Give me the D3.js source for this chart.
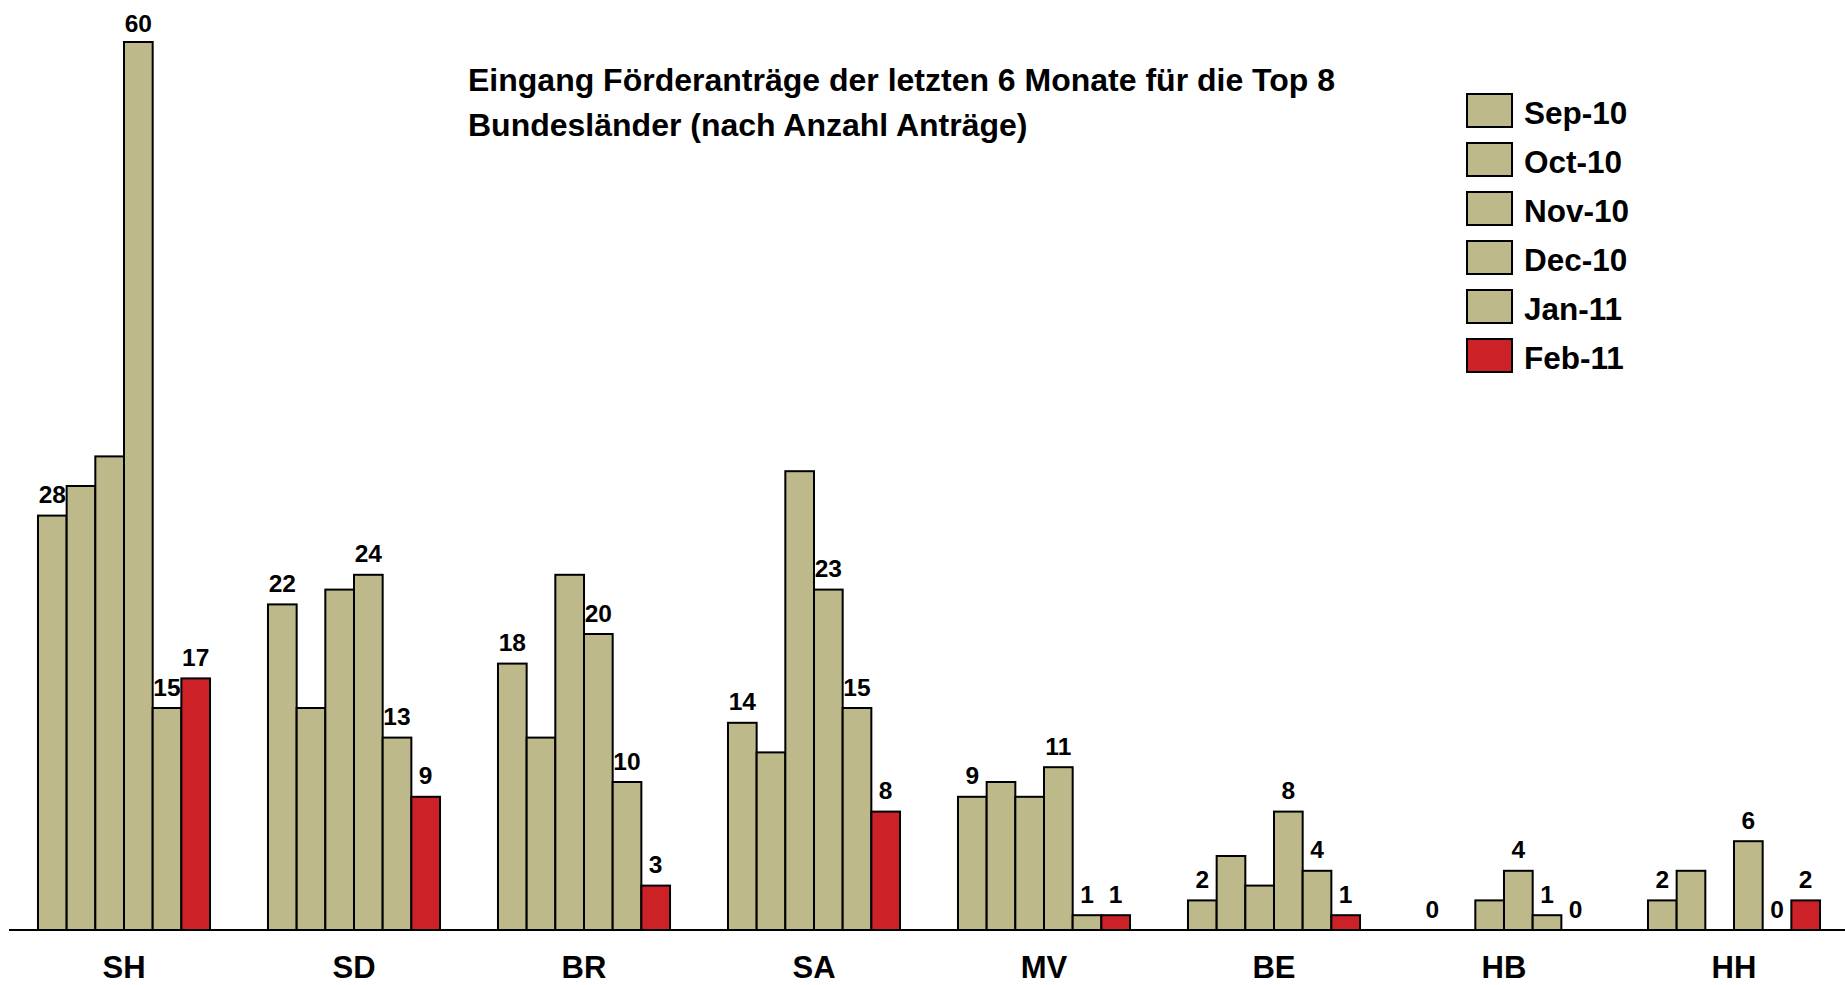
<!DOCTYPE html>
<html>
<head>
<meta charset="utf-8">
<script src="https://cdn.jsdelivr.net/npm/d3@7"></script>
<style>
    body { margin: 0; background: #fff; }
    text { font-family: "Liberation Sans", Arial, sans-serif; font-weight: bold; fill: #000; }
</style>
</head>
<body>
<div class="barchart"></div>
<script>
// DATA ------------------------------
const states = ["SH", "SD", "BR", "SA", "MV", "BE", "HB", "HH"];
const months = ["Sep-10", "Oct-10", "Nov-10", "Dec-10", "Jan-11", "Feb-11"];

const sep10 = [28, 22, 18, 14, 9, 2, 0, 2];
const oct10 = [30, 15, 13, 12, 10, 5, 0, 4];
const nov10 = [32, 23, 24, 31, 9, 3, 2, 0];
const dec10 = [60, 24, 20, 23, 11, 8, 4, 6];
const jan11 = [15, 13, 10, 15, 1, 4, 1, 0];
const feb11 = [17, 9, 3, 8, 1, 1, 0, 2];

// which months get a value label
const labelled = ["Sep-10", "Dec-10", "Jan-11", "Feb-11"];

const titleLines = [
    "Eingang Förderanträge der letzten 6 Monate für die Top 8",
    "Bundesländer (nach Anzahl Anträge)"
];

// CHART ------------------------------
const series = [sep10, oct10, nov10, dec10, jan11, feb11];
const data = [];
states.forEach((s, i) => {
    months.forEach((m, j) => {
        data.push({state: s, month: m, value: series[j][i]});
    });
});

const width = 1845, height = 985;
const colors = d3.scaleOrdinal()
    .domain(months)
    .range(["#bdb98a", "#bdb98a", "#bdb98a", "#bdb98a", "#bdb98a", "#cd2128"]);

const svg = d3.select(".barchart")
    .append("svg")
    .attr("width", width)
    .attr("height", height);

// scales
const xScale = d3.scaleBand()
    .domain(states)
    .range([9, 1849])
    .paddingInner(0.252)
    .paddingOuter(0.126);

const xSub = d3.scaleBand()
    .domain(months)
    .range([0, xScale.bandwidth()]);

const yScale = d3.scaleLinear()
    .domain([0, 60])
    .range([930, 42]);

// bars
const groups = svg.selectAll(".group")
    .data(states)
    .enter()
    .append("g")
    .attr("class", "group")
    .attr("transform", d => `translate(${xScale(d)},0)`);

groups.selectAll("rect")
    .data(s => data.filter(d => d.state === s && d.value > 0))
    .enter()
    .append("rect")
    .attr("x", d => xSub(d.month))
    .attr("y", d => yScale(d.value))
    .attr("width", xSub.bandwidth())
    .attr("height", d => yScale(0) - yScale(d.value))
    .attr("fill", d => colors(d.month))
    .attr("stroke", "#000")
    .attr("stroke-width", 2);

// labels sit ~12px over the bar, but the top one is pushed down to stay inside
groups.selectAll(".val")
    .data(s => data.filter(d => d.state === s && labelled.includes(d.month)))
    .enter()
    .append("text")
    .attr("class", "val")
    .attr("x", d => xSub(d.month) + xSub.bandwidth() / 2)
    .attr("y", d => Math.max(yScale(d.value) - 12.5, 32))
    .attr("text-anchor", "middle")
    .style("font-size", "24.5px")
    .text(d => d.value);

// x axis line + category labels
svg.append("line")
    .attr("x1", 9)
    .attr("x2", width)
    .attr("y1", yScale(0))
    .attr("y2", yScale(0))
    .attr("stroke", "#000")
    .attr("stroke-width", 2);

svg.selectAll(".cat")
    .data(states)
    .enter()
    .append("text")
    .attr("class", "cat")
    .attr("x", d => xScale(d) + xScale.bandwidth() / 2)
    .attr("y", 978)
    .attr("text-anchor", "middle")
    .style("font-size", "31px")
    .text(d => d);

// title
svg.append("text")
    .attr("class", "title")
    .style("font-size", "32px")
    .selectAll("tspan")
    .data(titleLines)
    .enter()
    .append("tspan")
    .attr("x", 468)
    .attr("y", (d, i) => 91 + i * 44.5)
    .text(d => d);

// legend
const legend = svg.append("g")
    .attr("class", "legend")
    .attr("transform", "translate(1467,94)");

const items = legend.selectAll("g")
    .data(months)
    .enter()
    .append("g")
    .attr("transform", (d, i) => `translate(0,${i * 49})`);

items.append("rect")
    .attr("width", 45)
    .attr("height", 33)
    .attr("fill", d => colors(d))
    .attr("stroke", "#000")
    .attr("stroke-width", 2);

items.append("text")
    .attr("x", 57)
    .attr("y", 30)
    .style("font-size", "31.5px")
    .text(d => d);
</script>
</body>
</html>
